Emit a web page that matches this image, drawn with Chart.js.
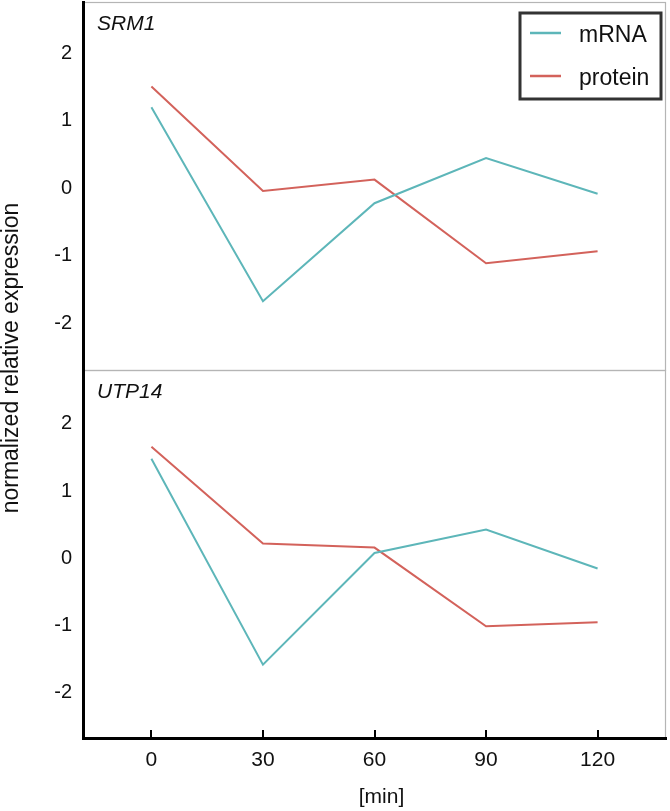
<!DOCTYPE html>
<html><head><meta charset="utf-8">
<script src="https://cdn.jsdelivr.net/npm/chart.js@4/dist/chart.umd.min.js"></script>
<style>html,body{margin:0;padding:0;background:#fff;} canvas{display:block;}</style>
</head><body>
<canvas id="c" width="670" height="811"></canvas>
<script>
// ---- data ----
const timePoints = [0, 30, 60, 90, 120];
const panelNames = ['SRM1', 'UTP14'];
const seriesNames = ['mRNA', 'protein'];
const srm1Mrna = [1.20, -1.67, -0.22, 0.45, -0.08];
const srm1Protein = [1.51, -0.04, 0.13, -1.11, -0.93];
const utp14Mrna = [1.48, -1.58, 0.08, 0.43, -0.15];
const utp14Protein = [1.66, 0.22, 0.16, -1.01, -0.95];
const yTickValues = [-2, -1, 0, 1, 2];
const xTitle = '[min]';
const yTitle = 'normalized relative expression';

const seriesColors = ['#5DB6B9', '#D3625B'];
const FONT = "'Liberation Sans', Arial, Helvetica, sans-serif";

function mk(label, vals, axis, color) {
  return {
    label, yAxisID: axis, xAxisID: 'x',
    data: timePoints.map((t, i) => ({x: t, y: vals[i]})),
    borderColor: color, backgroundColor: color, borderWidth: 2,
    pointRadius: 0, tension: 0, fill: false, borderJoinStyle: 'miter'
  };
}
const datasets = [
  mk(seriesNames[0], srm1Mrna, 'yTop', seriesColors[0]),
  mk(seriesNames[1], srm1Protein, 'yTop', seriesColors[1]),
  mk(seriesNames[0], utp14Mrna, 'yBot', seriesColors[0]),
  mk(seriesNames[1], utp14Protein, 'yBot', seriesColors[1])
];

function noPad(s) { s.paddingTop = 0; s.paddingBottom = 0; s.paddingLeft = 0; s.paddingRight = 0; }

function yScale(min, max) {
  return {
    type: 'linear', position: 'left', stack: 'panels', stackWeight: 1,
    min, max,
    afterBuildTicks: s => { s.ticks = yTickValues.map(v => ({value: v})); },
    afterFit: s => { s.width = 83; noPad(s); },
    grid: {display: false, drawTicks: false},
    border: {display: true, color: '#000', width: 3},
    ticks: {color: '#111', font: {family: FONT, size: 20}, padding: 11, callback: v => String(v)}
  };
}

const deco = {
  id: 'deco',
  beforeDraw(chart) {
    const ctx = chart.ctx, ca = chart.chartArea;
    ctx.save();
    ctx.fillStyle = '#fff';
    ctx.fillRect(0, 0, chart.width, chart.height);
    ctx.strokeStyle = '#b5b5b5';
    ctx.lineWidth = 1.2;
    ['yTop', 'yBot'].forEach(id => {
      const s = chart.scales[id];
      ctx.strokeRect(ca.left, s.top + 0.5, ca.right - ca.left - 0.5, s.bottom - s.top);
    });
    ctx.restore();
  },
  afterDraw(chart) {
    const ctx = chart.ctx, ca = chart.chartArea;
    ctx.save();
    // inward x ticks
    const xs = chart.scales.x;
    ctx.strokeStyle = '#000';
    ctx.lineWidth = 2;
    timePoints.forEach(v => {
      const px = Math.round(xs.getPixelForValue(v));
      ctx.beginPath();
      ctx.moveTo(px, ca.bottom);
      ctx.lineTo(px, ca.bottom - 8);
      ctx.stroke();
    });
    // x title
    ctx.fillStyle = '#111';
    ctx.textBaseline = 'middle';
    ctx.textAlign = 'center';
    ctx.font = '21px ' + FONT;
    ctx.fillText(xTitle, (ca.left + ca.right) / 2 + 7, ca.bottom + 59);
    // panel labels
    ctx.font = 'italic 21px ' + FONT;
    ctx.textAlign = 'left';
    [['yTop', panelNames[0]], ['yBot', panelNames[1]]].forEach(([id, name]) => {
      ctx.fillText(name, ca.left + 14, chart.scales[id].top + 22);
    });
    // y title
    ctx.save();
    ctx.translate(12, (ca.top + ca.bottom) / 2 - 12);
    ctx.rotate(-Math.PI / 2);
    ctx.textAlign = 'center';
    ctx.font = '23px ' + FONT;
    ctx.fillText(yTitle, 0, 0);
    ctx.restore();
    // legend
    const lx = ca.right - 146, ly = ca.top + 11, lw = 141, lh = 86;
    ctx.strokeStyle = '#333';
    ctx.lineWidth = 3;
    ctx.strokeRect(lx, ly, lw, lh);
    ctx.font = '23px ' + FONT;
    ctx.textAlign = 'left';
    seriesNames.forEach((n, i) => {
      const yy = ly + 20 + i * 43;
      ctx.strokeStyle = seriesColors[i];
      ctx.lineWidth = 2.5;
      ctx.beginPath();
      ctx.moveTo(lx + 10, yy);
      ctx.lineTo(lx + 41, yy);
      ctx.stroke();
      ctx.fillStyle = '#111';
      ctx.fillText(n, lx + 59, yy + 3);
    });
    ctx.restore();
  }
};

new Chart(document.getElementById('c'), {
  type: 'line',
  data: {datasets},
  options: {
    responsive: false, animation: false, devicePixelRatio: 1,
    layout: {padding: {top: 2, right: 4, left: 0, bottom: 0}},
    plugins: {legend: {display: false}, tooltip: {enabled: false}},
    scales: {
      x: {
        type: 'linear', position: 'bottom', min: -18.4, max: 138.4,
        afterBuildTicks: s => { s.ticks = timePoints.map(v => ({value: v})); },
        afterFit: s => { s.height = 73; noPad(s); },
        grid: {display: false, drawTicks: false},
        border: {display: true, color: '#000', width: 3},
        ticks: {color: '#111', font: {family: FONT, size: 21}, padding: 10, maxRotation: 0, autoSkip: false}
      },
      yBot: yScale(-2.67, 2.80),
      yTop: yScale(-2.69, 2.76)
    }
  },
  plugins: [deco]
});
</script>
</body></html>
